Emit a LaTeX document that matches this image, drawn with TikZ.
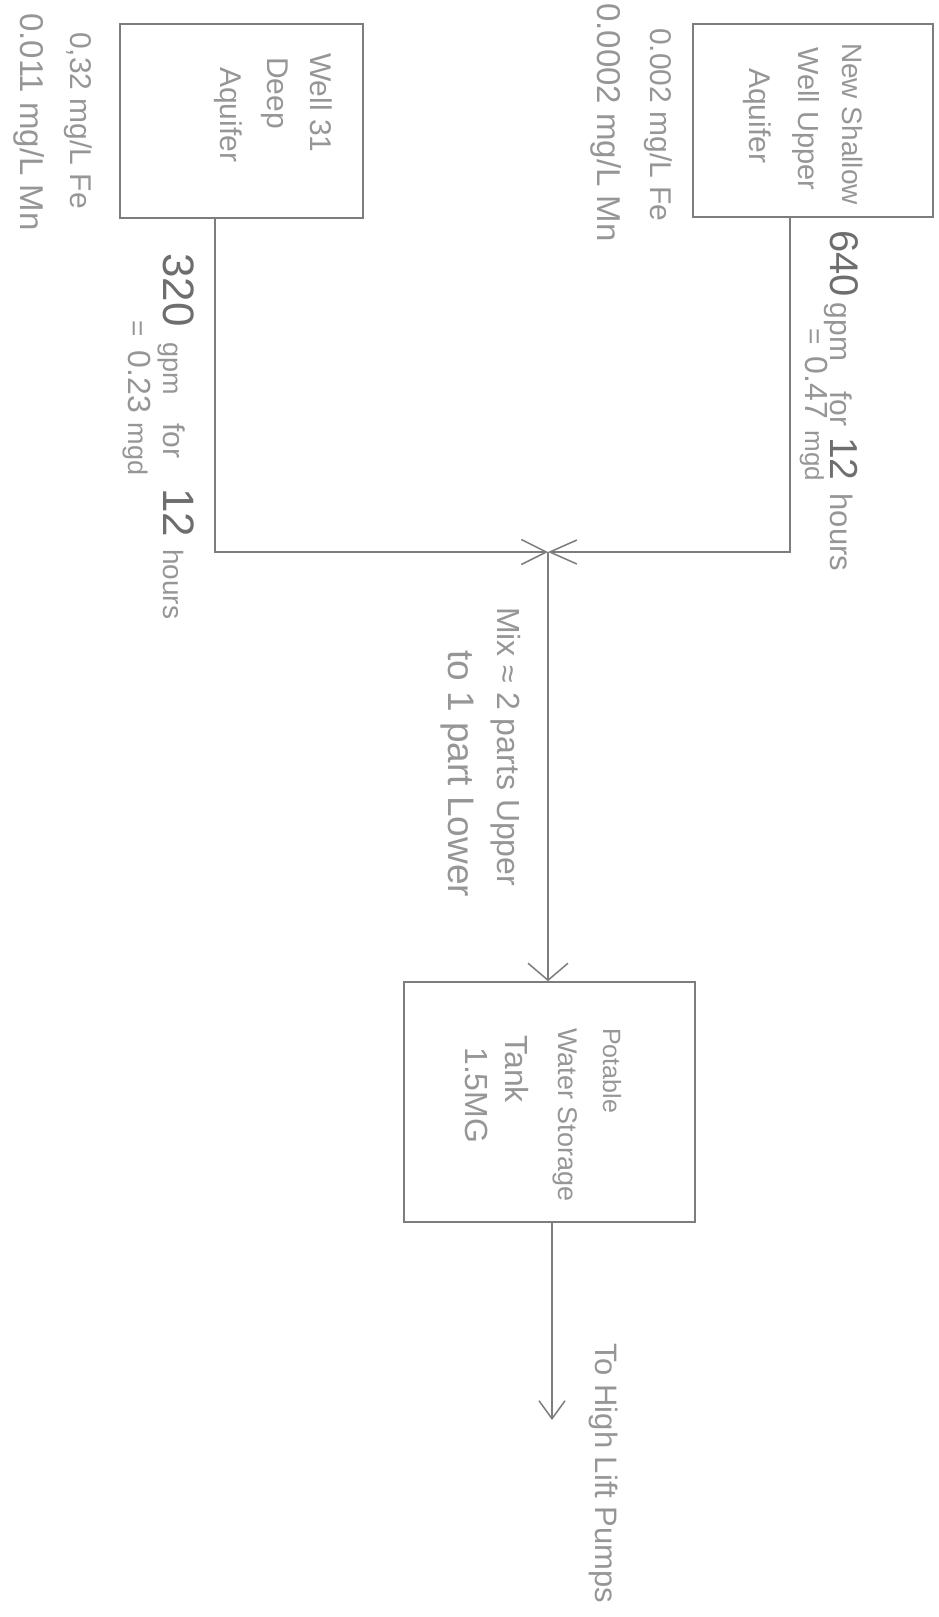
\documentclass[tikz,border=0pt]{standalone}
\usepackage{fontspec}
\setmainfont{Liberation Sans}
\usetikzlibrary{arrows.meta}
\definecolor{pencil}{RGB}{125,125,125}
\definecolor{txt}{RGB}{150,150,150}
\definecolor{dark}{RGB}{110,110,110}
\newcommand{\myfs}[1]{\fontsize{#1pt}{#1pt}\selectfont}
\tikzset{
  boxn/.style={draw=pencil, line width=1.6pt, inner sep=0pt},
  flow/.style={draw=pencil, line width=1.5pt},
  lbl/.style={rotate=-90, anchor=base west, inner sep=0pt, text=txt},
}
\begin{document}
\begin{tikzpicture}[x=1pt,y=-1pt]
\useasboundingbox (0,0) rectangle (939,1617);
\fill[white] (0,0) rectangle (939,1617);

% boxes
\node[boxn, minimum width=243pt, minimum height=194pt] (box1) at (241.5,121) {};
\node[boxn, minimum width=240pt, minimum height=193pt] (box2) at (813,120.5) {};
\node[boxn, minimum width=291pt, minimum height=240pt] (tank) at (549.5,1102) {};

% connectors
\coordinate (j) at (548,552);
\coordinate (o1) at (box1.south -| 215,0);
\coordinate (o2) at (box2.south -| 790,0);
\coordinate (t1) at (tank.south -| 552,0);
\coordinate (out) at (552,1420);
\draw[flow, -{Straight Barb[length=25pt,width=25pt]}] (o1) |- (j);
\draw[flow, -{Straight Barb[length=27pt,width=24pt]}] (o2) |- (j);
\draw[flow, -{Straight Barb[length=17pt,width=40pt]}] (j) -- (j |- tank.north);
\draw[flow, -{Straight Barb[length=18pt,width=26pt]}] (t1) -- (out);

% box texts
\node[lbl, font=\myfs{30}] (w31a) at (310,53) {Well 31};
\node[lbl, font=\myfs{30}] (w31b) at (267,57) {Deep};
\node[lbl, font=\myfs{30}] (w31c) at (220,67) {Aquifer};
\node[lbl, font=\myfs{28}] (nsa) at (842,43) {New Shallow};
\node[lbl, font=\myfs{29}] (nsb) at (798,47) {Well Upper};
\node[lbl, font=\myfs{30}] (nsc) at (749,68) {Aquifer};

% water quality
\node[lbl, font=\myfs{30}] (q1a) at (70,32) {0,32 mg/L Fe};
\node[lbl, font=\myfs{33}] (q1b) at (20,13) {0.011 mg/L Mn};
\node[lbl, font=\myfs{30}] (q2a) at (650,28) {0.002 mg/L Fe};
\node[lbl, font=\myfs{33}] (q2b) at (597,3) {0.0002 mg/L Mn};

% flows
\node[lbl] (f2a) at (830,230) {{\myfs{40}\color{dark}640}\hspace{6pt}{\myfs{30}gpm}\hspace{30pt}{\myfs{30}for}\hspace{11pt}{\myfs{39}\color{dark}12}\hspace{13pt}{\myfs{31}hours}};
\node[lbl] (f2b) at (805,328) {{\myfs{28}=}\hspace{12pt}{\myfs{32}0.47}\hspace{12pt}{\myfs{26}mgd}};
\node[lbl] (f1a) at (163,253) {{\myfs{44}\color{dark}320}\hspace{16pt}{\myfs{27}gpm}\hspace{28pt}{\myfs{30}for}\hspace{30pt}{\myfs{44}\color{dark}12}\hspace{12pt}{\myfs{28}hours}};
\node[lbl] (f1b) at (128,320) {{\myfs{28}=}\hspace{14pt}{\myfs{32}0.23}\hspace{10pt}{\myfs{27}mgd}};

% mix
\node[lbl, font=\myfs{32}] (mixa) at (497,607) {Mix ≈ 2 parts Upper};
\node[lbl, font=\myfs{37}] (mixb) at (448,650) {to 1 part Lower};

% tank text
\node[lbl, font=\myfs{25}] (ta) at (603,1028) {Potable};
\node[lbl, font=\myfs{27}] (tb) at (558,1028) {Water Storage};
\node[lbl, font=\myfs{32}] (tc) at (505,1035) {Tank};
\node[lbl, font=\myfs{32}] (td) at (465,1047) {1.5MG};

% output
\node[lbl, font=\myfs{31}] (hl) at (595,1343) {To High Lift Pumps};
\end{tikzpicture}
\end{document}
